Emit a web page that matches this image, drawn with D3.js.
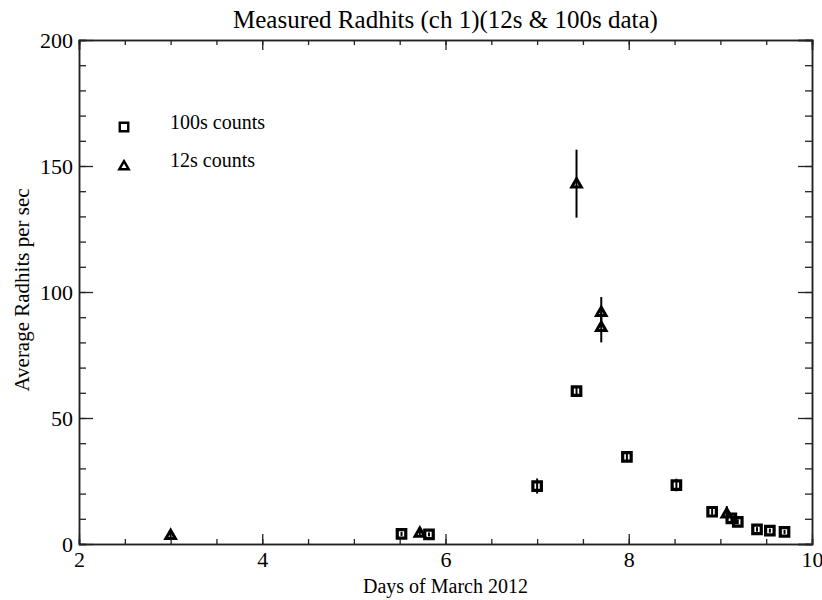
<!DOCTYPE html>
<html>
<head>
<meta charset="utf-8">
<script src="https://cdn.jsdelivr.net/npm/d3@7"></script>
<style>
  html, body { margin: 0; padding: 0; background: #fff; }
  svg text { font-family: "Liberation Serif", "Times New Roman", serif; fill: #000; }
</style>
</head>
<body>
<svg id="chart" width="822" height="600"></svg>
<script>
// 12 s integration counts (day of March 2012, rate, 1-sigma error)
const timesShort = [3.0, 5.72, 7.43, 7.70, 7.70, 9.07];
const ratesShort = [3.5, 4.4, 143, 92, 86, 12];
const errShort   = [1.0, 1.0, 13.5, 6, 6, 3];

// 100 s integration counts
const timesLong = [5.52, 5.82, 7.0, 7.43, 7.98, 8.52, 8.91, 9.12, 9.19, 9.40, 9.54, 9.70];
const ratesLong = [4.0, 3.8, 23, 60.7, 34.6, 23.4, 12.8, 10.2, 8.8, 5.8, 5.3, 4.8];
const errLong   = [0.8, 0.8, 3, 2, 2, 2.5, 1.2, 1.1, 1.0, 0.9, 0.8, 0.8];

const xMajor = [2, 4, 6, 8, 10];
const xMinor = d3.range(2, 10.01, 0.5);
const yMajor = [0, 50, 100, 150, 200];
const yMinor = d3.range(0, 200.1, 10);

const legendLabels = ["100s counts", "12s counts"];

const svg = d3.select("#chart");
const pLeft = 79, pRight = 812, pTop = 40, pBottom = 544;

const x = d3.scaleLinear().domain([2, 10]).range([pLeft, pRight]);
const y = d3.scaleLinear().domain([0, 200]).range([pBottom, pTop]);

const axisColor = "#222";

function styleAxis(g) {
  g.select(".domain").attr("stroke", axisColor).attr("stroke-width", 1.5);
  g.selectAll(".tick line").attr("stroke", axisColor).attr("stroke-width", 1.3);
}

// bottom axis (labels) + minor ticks
svg.append("g").attr("transform", `translate(0,${pBottom})`)
  .call(d3.axisBottom(x).tickValues(xMinor).tickSize(-5).tickFormat(""))
  .call(styleAxis);
const gx = svg.append("g").attr("transform", `translate(0,${pBottom})`)
  .call(d3.axisBottom(x).tickValues(xMajor).tickSizeInner(-10).tickSizeOuter(0).tickPadding(7).tickFormat(d3.format("d")))
  .call(styleAxis);
gx.selectAll("text").attr("font-size", 22).attr("font-family", "Liberation Serif");

// top axis
svg.append("g").attr("transform", `translate(0,${pTop})`)
  .call(d3.axisTop(x).tickValues(xMinor).tickSize(-5).tickFormat(""))
  .call(styleAxis);
svg.append("g").attr("transform", `translate(0,${pTop})`)
  .call(d3.axisTop(x).tickValues(xMajor).tickSize(-10).tickFormat(""))
  .call(styleAxis);

// left axis
svg.append("g").attr("transform", `translate(${pLeft},0)`)
  .call(d3.axisLeft(y).tickValues(yMinor).tickSize(-7).tickFormat(""))
  .call(styleAxis);
const gy = svg.append("g").attr("transform", `translate(${pLeft},0)`)
  .call(d3.axisLeft(y).tickValues(yMajor).tickSizeInner(-14).tickSizeOuter(0).tickPadding(6).tickFormat(d3.format("d")))
  .call(styleAxis);
gy.selectAll("text").attr("font-size", 22).attr("font-family", "Liberation Serif");

// right axis
svg.append("g").attr("transform", `translate(${pRight},0)`)
  .call(d3.axisRight(y).tickValues(yMinor).tickSize(-7).tickFormat(""))
  .call(styleAxis);
svg.append("g").attr("transform", `translate(${pRight},0)`)
  .call(d3.axisRight(y).tickValues(yMajor).tickSize(-14).tickFormat(""))
  .call(styleAxis);

// titles
svg.append("text").attr("x", (pLeft + pRight) / 2).attr("y", 28)
  .attr("text-anchor", "middle").attr("font-size", 25)
  .text("Measured Radhits (ch 1)(12s & 100s data)");
svg.append("text").attr("x", (pLeft + pRight) / 2).attr("y", 593)
  .attr("text-anchor", "middle").attr("font-size", 20)
  .text("Days of March 2012");
svg.append("text").attr("transform", `translate(29,${(pTop + pBottom) / 2 - 2}) rotate(-90)`)
  .attr("text-anchor", "middle").attr("font-size", 21)
  .text("Average Radhits per sec");

// marker shapes
const sq = 8.5, tri = 9.5;
function squarePath(cx, cy) {
  const h = sq / 2;
  return `M${cx - h},${cy - h}H${cx + h}V${cy + h}H${cx - h}Z`;
}
function trianglePath(cx, cy) {
  const h = tri * 0.866;
  return `M${cx},${cy - h * 0.6}L${cx + tri / 2},${cy + h * 0.4}L${cx - tri / 2},${cy + h * 0.4}Z`;
}

const longData = timesLong.map((t, i) => ({ t, v: ratesLong[i], e: errLong[i] }));
const shortData = timesShort.map((t, i) => ({ t, v: ratesShort[i], e: errShort[i] }));

const marks = svg.append("g");

// error bars
marks.selectAll("line.errL").data(longData).enter().append("line")
  .attr("x1", d => x(d.t)).attr("x2", d => x(d.t))
  .attr("y1", d => y(d.v - d.e)).attr("y2", d => y(d.v + d.e))
  .attr("stroke", "#000").attr("stroke-width", 2);
marks.selectAll("line.errS").data(shortData).enter().append("line")
  .attr("x1", d => x(d.t)).attr("x2", d => x(d.t))
  .attr("y1", d => y(d.v - d.e)).attr("y2", d => y(d.v + d.e))
  .attr("stroke", "#000").attr("stroke-width", 2);

// 100 s squares
marks.selectAll("path.sq").data(longData).enter().append("path")
  .attr("d", d => squarePath(x(d.t), y(d.v)))
  .attr("fill", "none").attr("stroke", "#000").attr("stroke-width", 3.2);

// 12 s triangles
marks.selectAll("path.tri").data(shortData).enter().append("path")
  .attr("d", d => trianglePath(x(d.t), y(d.v)))
  .attr("fill", "none").attr("stroke", "#000").attr("stroke-width", 3)
  .attr("stroke-linejoin", "miter");

// legend
const legend = svg.append("g");
legend.append("path").attr("d", squarePath(124, 127))
  .attr("fill", "none").attr("stroke", "#000").attr("stroke-width", 2.4);
legend.append("text").attr("x", 170).attr("y", 129).attr("font-size", 20).text(legendLabels[0]);
legend.append("path").attr("d", trianglePath(124, 166))
  .attr("fill", "none").attr("stroke", "#000").attr("stroke-width", 2.4);
legend.append("text").attr("x", 170).attr("y", 167).attr("font-size", 20).text(legendLabels[1]);
</script>
</body>
</html>
